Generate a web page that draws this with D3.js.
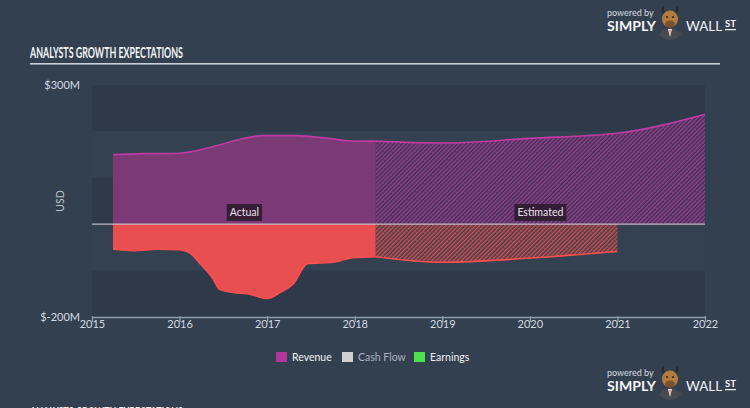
<!DOCTYPE html>
<html><head><meta charset="utf-8">
<script src="https://cdn.jsdelivr.net/npm/d3@7"></script>
<style>
html,body{margin:0;padding:0;background:#334050;overflow:hidden}
svg{display:block}
text{font-family:Lato,"Open Sans",sans-serif}
</style></head>
<body>
<script>
// ---- data ----
const yearTicks = [2015,2016,2017,2018,2019,2020,2021,2022];
const yTickLabels = ["$300M","$-200M"];
const yTickValues = [300,-200];
const revActualYears = [2015.24,2015.6,2016.0,2016.38,2016.69,2016.95,2017.3,2017.75,2017.91,2018.24];
const revActualVals  = [150,152,153,167,183,191,191,184,180,179];
const revEstYears = [2018.24,2019,2020,2021,2022];
const revEstVals  = [179,175,185,196,237];
const earnActualYears = [2015.24,2015.47,2015.74,2016.0,2016.12,2016.23,2016.38,2016.46,2016.61,2016.8,2017.0,2017.15,2017.3,2017.46,2017.75,2017.98,2018.24];
const earnActualVals  = [-54,-57,-54,-55,-62,-84,-117,-141,-147,-151,-160,-147,-128,-85,-82,-72,-70];
const earnEstYears = [2018.24,2019,2020,2021];
const earnEstVals  = [-70,-82,-73,-59];
const legendItems = ["Revenue","Cash Flow","Earnings"];
const legendColors = ["#b5369b","#d0d0d0","#4fe04f"];
const title = "ANALYSTS GROWTH EXPECTATIONS";

const W=750,H=408;
const svg=d3.select("body").append("svg").attr("width",W).attr("height",H);
const defs=svg.append("defs");
function hatch(id,bg,fg){
  const p=defs.append("pattern").attr("id",id).attr("patternUnits","userSpaceOnUse")
    .attr("width",3).attr("height",3).attr("patternTransform","rotate(45)");
  p.append("rect").attr("width",3).attr("height",3).attr("fill",bg);
  p.append("rect").attr("width",1.4).attr("height",3).attr("fill",fg);
}
hatch("hP","#3d3452","#9a3d92");
hatch("hR","#44404c","#d24f50");

svg.append("rect").attr("width",W).attr("height",H).attr("fill","#334050");

const x=d3.scaleLinear().domain([2015,2022]).range([92,705]);
const y=d3.scaleLinear().domain([-200,300]).range([317,85]);

// bands
const bands=[[300,200,"#2e3a49"],[200,100,"#334151"],[100,0,"#2e3a49"],[0,-100,"#334151"],[-100,-200,"#2e3a49"]];
svg.selectAll("rect.band").data(bands).join("rect").attr("class","band")
  .attr("x",x(2015)).attr("width",x(2022)-x(2015))
  .attr("y",d=>y(d[0])).attr("height",d=>y(d[1])-y(d[0])).attr("fill",d=>d[2]);

const curve=d3.curveMonotoneX;
function pts(xs,vs){return xs.map((t,i)=>[t,vs[i]]);}
const area=d3.area().x(d=>x(d[0])).y0(y(0)).y1(d=>y(d[1])).curve(curve);
const line=d3.line().x(d=>x(d[0])).y(d=>y(d[1])).curve(curve);

const rA=pts(revActualYears,revActualVals), rE=pts(revEstYears,revEstVals);
const eA=pts(earnActualYears,earnActualVals), eE=pts(earnEstYears,earnEstVals);

svg.append("path").attr("d",area(rA)).attr("fill","#7b3a76");
svg.append("path").attr("d",area(rE)).attr("fill","url(#hP)");
svg.append("path").attr("d",area(eA)).attr("fill","#e94e50");
svg.append("path").attr("d",area(eE)).attr("fill","url(#hR)");
[rA,rE].forEach(d=>svg.append("path").attr("d",line(d)).attr("fill","none").attr("stroke","#c03aa4").attr("stroke-width",1.6));
[eA,eE].forEach(d=>svg.append("path").attr("d",line(d)).attr("fill","none").attr("stroke","#ff4f50").attr("stroke-width",1.6));

// zero line
svg.append("line").attr("x1",x(2015)).attr("x2",x(2022)).attr("y1",y(0)).attr("y2",y(0))
  .attr("stroke","#e6dfe6").attr("stroke-opacity",0.75).attr("stroke-width",1.3);

// labels Actual / Estimated
function tag(t,cx){
  const g=svg.append("g");
  const tx=g.append("text").attr("x",cx).attr("y",216).attr("text-anchor","middle")
    .attr("font-size",10.5).attr("fill","#e8e0e8").text(t);
  const bb=tx.node().getBBox();
  g.insert("rect","text").attr("x",bb.x-3).attr("y",204).attr("width",bb.width+6).attr("height",17)
    .attr("fill","#2a1a2c").attr("fill-opacity",0.85);
}
tag("Actual",x((revActualYears[0]+revActualYears[revActualYears.length-1])/2));
tag("Estimated",x((revEstYears[0]+revEstYears[revEstYears.length-1])/2));

// x axis
const xa=svg.append("g").attr("transform",`translate(0,${y(-200)})`)
  .call(d3.axisBottom(x).tickValues(yearTicks).tickFormat(d3.format("d")).tickSize(6).tickSizeOuter(0));
xa.select(".domain").attr("stroke","#8c9cad").attr("stroke-width",1.3);
xa.selectAll(".tick line").attr("stroke","#8c9cad").attr("stroke-width",1.3).attr("y1",-1).attr("y2",5);
xa.selectAll(".tick text").attr("fill","#d5dbe2").attr("font-size",11).attr("dy","0.55em").attr("y",5).attr("font-family","Lato,sans-serif");

// y labels
svg.selectAll("text.yl").data(yTickValues).join("text").attr("class","yl")
  .attr("x",80).attr("y",d=>y(d)).attr("dy","0.35em").attr("text-anchor","end")
  .attr("font-size",11).attr("fill","#d5dbe2").text((d,i)=>yTickLabels[i]);
svg.append("text").attr("transform","translate(64,201) rotate(-90)").attr("text-anchor","middle")
  .attr("font-size",10.5).attr("fill","#b9c2cc").text("USD");

// title
function titleAt(oy){
  svg.append("text").attr("x",30).attr("y",58+oy).attr("font-family","'Liberation Sans Narrow','DejaVu Sans Condensed',sans-serif")
    .attr("font-weight","bold").attr("font-size",16).attr("fill","#f2f4f6")
    .attr("textLength",153).attr("lengthAdjust","spacingAndGlyphs").text(title);
}
titleAt(0); titleAt(360);
svg.append("rect").attr("x",30).attr("y",63).attr("width",690).attr("height",1.6).attr("fill","#c9d0d8");

// legend
const lg=svg.append("g");
const lx=[276,342,414];
legendItems.forEach((t,i)=>{
  lg.append("rect").attr("x",lx[i]).attr("y",352).attr("width",11).attr("height",10).attr("fill",legendColors[i]);
  lg.append("text").attr("x",lx[i]+16).attr("y",361).attr("font-size",10.5)
    .attr("fill",i==1?"#aab3be":"#eef0f2").text(t);
});

// logo
function logo(oy){
  const g=svg.append("g").attr("transform",`translate(0,${oy})`);
  g.append("text").attr("x",607).attr("y",16).attr("font-size",9).attr("fill","#d7dce2").attr("font-family","'Open Sans',sans-serif").text("powered by");
  g.append("text").attr("x",607).attr("y",31).attr("font-size",12.5).attr("font-weight","bold").attr("fill","#f2f4f6")
    .attr("textLength",49).attr("lengthAdjust","spacingAndGlyphs").attr("font-family","'Open Sans',sans-serif").text("SIMPLY");
  g.append("text").attr("x",686).attr("y",31).attr("font-size",12.5).attr("fill","#f2f4f6")
    .attr("textLength",36).attr("lengthAdjust","spacingAndGlyphs").attr("font-family","'Open Sans',sans-serif").text("WALL");
  g.append("text").attr("x",725).attr("y",27).attr("font-size",9).attr("font-weight","bold").attr("fill","#f2f4f6")
    .attr("textLength",11).attr("lengthAdjust","spacingAndGlyphs").attr("font-family","'Open Sans',sans-serif").text("ST");
  g.append("rect").attr("x",725).attr("y",29).attr("width",11).attr("height",1.2).attr("fill","#f2f4f6");
  // bull
  g.append("path").attr("d","M659,34 Q670,22 682,34 Q676,40 670,40 Q664,40 659,34Z").attr("fill","#474a50");
  g.append("path").attr("d","M668,29 L670,37 L672,29Z").attr("fill","#f2f2f2");
  g.append("path").attr("d","M669.5,30 L670,36 L670.8,30Z").attr("fill","#e8602a");
  g.append("path").attr("d","M662,12 Q661,7 664,6 Q663,10 665,13Z").attr("fill","#2c2520");
  g.append("path").attr("d","M678,12 Q679,7 676,6 Q677,10 675,13Z").attr("fill","#2c2520");
  g.append("ellipse").attr("cx",670).attr("cy",19).attr("rx",8).attr("ry",8.5).attr("fill","#b47c3c");
  g.append("ellipse").attr("cx",670).attr("cy",24).attr("rx",5).attr("ry",3.5).attr("fill","#7b5230");
  g.append("circle").attr("cx",667).attr("cy",17).attr("r",1).attr("fill","#222");
  g.append("circle").attr("cx",673).attr("cy",17).attr("r",1).attr("fill","#222");
}
logo(0); logo(360);
</script>
</body></html>
